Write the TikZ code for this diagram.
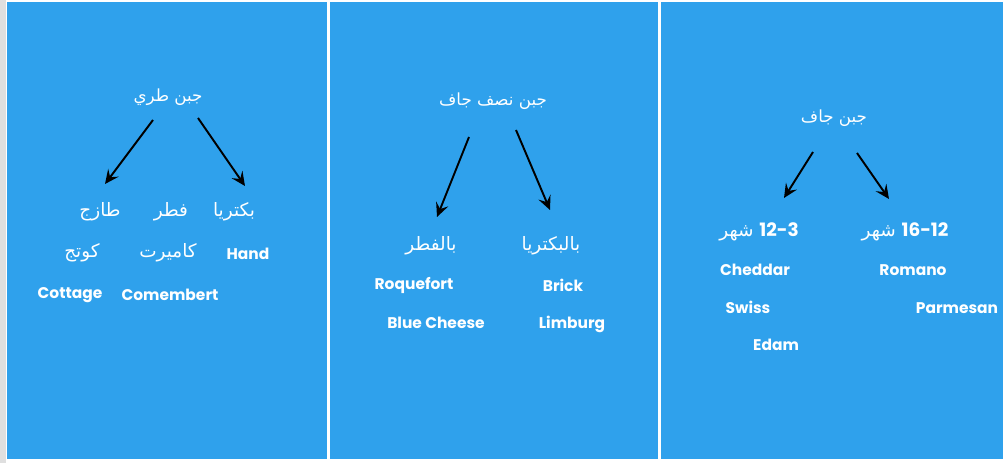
\documentclass[tikz,border=0pt]{standalone}
\usepackage{fontspec}
\setmainfont{Poppins}
\newfontfamily\arabicfont[Script=Arabic]{DejaVu Sans}
\TeXXeTstate=1
\usetikzlibrary{arrows.meta}
\definecolor{panelblue}{RGB}{47,161,236}
\newcommand\numtext[1]{{\rmfamily\bfseries #1}}
\tikzset{
  artext/.style={text=white,font=\arabicfont\fontsize{10.5}{12}\selectfont,inner sep=1pt},
  artitle/.style={artext,font=\arabicfont\fontsize{9.5}{11}\selectfont},
  lattext/.style={text=white,font=\fontsize{8.8}{10}\selectfont\bfseries,inner sep=1pt},
  arr/.style={-{Stealth[length=2.8mm,width=2.6mm,inset=1.1mm]},line width=1.1pt,black}
}

\begin{document}
\begin{tikzpicture}[x=0.2mm,y=-0.2mm]
        \useasboundingbox (0,0) rectangle (1003,463);
        \fill[white] (0,0) rectangle (1003,463);
        \fill[gray!25] (0,0) rectangle (6,463);
        % three panels
        \fill[panelblue] (7,2) rectangle (327,459);
        \fill[panelblue] (330,2) rectangle (658,459);
        \fill[panelblue] (661,2) rectangle (1003,459);

        % soft cheese
        \node[artitle] (soft) at (168,97) {\beginR جبن طري\endR};
        \coordinate (softA) at (153,120);
        \coordinate (softB) at (198,118);
        \coordinate (fresh) at (105,184);
        \coordinate (bact) at (245,186);
        \draw[arr] (softA)--(fresh);
        \draw[arr] (softB)--(bact);
        \node[artext] (tazij) at (100,212) {\beginR طازج\endR};
        \node[artext] (futr) at (171,212) {\beginR فطر\endR};
        \node[artext] (bakt) at (234,212) {\beginR بكتريا\endR};
        \node[artext] (cottAr) at (82,253) {\beginR كوتج\endR};
        \node[artext] (camAr) at (168,253) {\beginR كاميرت\endR};
        \node[lattext] (hand) at (248,254) {Hand};
        \node[lattext] (cott) at (70,295) {Cottage};
        \node[lattext] (camb) at (170,295) {Comembert};

        % semi-hard cheese
        \node[artitle] (semi) at (493,101) {\beginR جبن نصف جاف\endR};
        \coordinate (semiA) at (469,137);
        \coordinate (semiB) at (516,130);
        \coordinate (mould) at (437,217);
        \coordinate (germ) at (550,210);
        \draw[arr] (semiA)--(mould);
        \draw[arr] (semiB)--(germ);
        \node[artext] (bilfutr) at (431,246) {\beginR بالفطر\endR};
        \node[artext] (bilbakt) at (551,246) {\beginR بالبكتريا\endR};
        \node[lattext] (roq) at (414,285) {Roquefort};
        \node[lattext] (brick) at (563,285) {Brick};
        \node[lattext] (blue) at (436,323) {Blue Cheese};
        \node[lattext] (limb) at (572,324) {Limburg};

        % hard cheese
        \node[artext] (hard) at (834,118) {\fontsize{9.5}{11}\selectfont\beginR جبن جاف\endR};
        \coordinate (hardA) at (813,152);
        \coordinate (hardB) at (857,153);
        \coordinate (short) at (784,198);
        \coordinate (long) at (889,199);
        \draw[arr] (hardA)--(short);
        \draw[arr] (hardB)--(long);
        \node[artext] (mthA) at (759,232) {\beginR\beginL\numtext{12-3}\endL{} شهر\endR};
        \node[artext] (mthB) at (905,232) {\beginR\beginL\numtext{16-12}\endL{} شهر\endR};
        \node[lattext] (ched) at (755,270) {Cheddar};
        \node[lattext] (rom) at (913,270) {Romano};
        \node[lattext] (swiss) at (748,307) {Swiss};
        \node[lattext] (parm) at (957,308) {Parmesan};
        \node[lattext] (edam) at (776,345) {Edam};
\end{tikzpicture}
\end{document}
